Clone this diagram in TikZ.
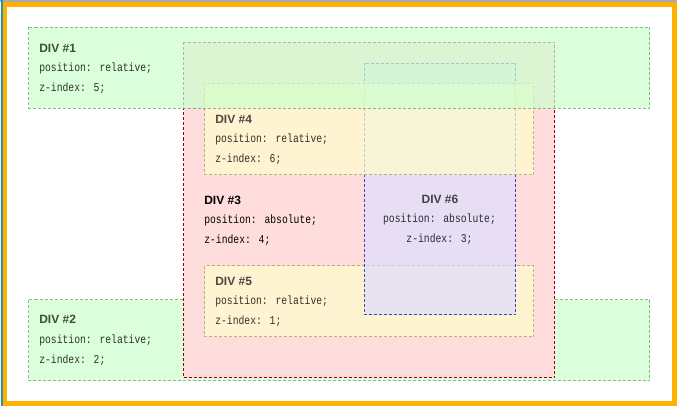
\documentclass[tikz,border=0pt]{standalone}
\usepackage{fontspec}
\setmainfont{Liberation Sans}
\newfontfamily\monof[FakeStretch=0.81]{Liberation Mono}
\definecolor{frameor}{RGB}{255,176,0}
\definecolor{tealln}{RGB}{40,150,170}
\definecolor{topgray}{RGB}{170,170,170}
\definecolor{grfill}{HTML}{CCFFCC}
\definecolor{grline}{HTML}{669966}
\definecolor{pkfill}{HTML}{FFDDDD}
\definecolor{pkline}{HTML}{990000}
\definecolor{ylfill}{HTML}{FFFFCC}
\definecolor{ylline}{HTML}{999966}
\definecolor{blfill}{HTML}{DDDDFF}
\definecolor{blline}{HTML}{000099}
\tikzset{
  divbox/.style={opacity=0.7, line width=0.75pt, dash pattern=on 2.25pt off 1.5pt},
  box12/.style={divbox, fill=grfill, draw=grline},
  box3/.style={line width=0.75pt, dash pattern=on 2.25pt off 1.5pt, fill=pkfill, draw=pkline},
  box45/.style={divbox, fill=ylfill, draw=ylline},
  box6/.style={divbox, fill=blfill, draw=blline},
  ttl/.style={font=\fontsize{9}{10}\selectfont\bfseries, inner sep=0pt, anchor=west, text opacity=0.7},
  mono/.style={font=\monof\fontsize{9}{10}\selectfont, inner sep=0pt, anchor=west, text opacity=0.8},
}
\begin{document}
\begin{tikzpicture}[x=0.75pt,y=-0.75pt]
\useasboundingbox (0,0) rectangle (677,406);
% frame
\fill[topgray] (0,0) rectangle (677,2);
\fill[tealln] (1,0) rectangle (2.6,406);
\fill[frameor] (2.6,2) rectangle (677,406);
\fill[white] (7,7) rectangle (672,401);
% DIV 2
\draw[box12] (28.5,299.5) rectangle (649.5,380.5);
\node[ttl] (t2) at (39,319.5) {DIV \#2};
\node[mono] (p2) at (39,340.5) {position: relative;};
\node[mono] (z2) at (39,360.5) {z-index: 2;};
% DIV 3
\draw[box3] (183.5,42.5) rectangle (554.5,377.5);
\node[ttl, text opacity=1] (t3) at (204,200) {DIV \#3};
\node[mono, text opacity=1] (p3) at (204,220.5) {position: absolute;};
\node[mono, text opacity=1] (z3) at (204,240.5) {z-index: 4;};
% DIV 5
\draw[box45] (204.5,265.5) rectangle (533.5,336.5);
\node[ttl] (t5) at (215,281) {DIV \#5};
\node[mono] (p5) at (215,301) {position: relative;};
\node[mono] (z5) at (215,321) {z-index: 1;};
% DIV 6
\draw[box6] (364.5,63.5) rectangle (515.5,314.5);
\node[ttl, anchor=center] (t6) at (440,199.5) {DIV \#6};
\node[mono, anchor=center] (p6) at (439.5,219.5) {position: absolute;};
\node[mono, anchor=center] (z6) at (439.5,239.5) {z-index: 3;};
% DIV 4
\draw[box45] (204.5,83.5) rectangle (533.5,174.5);
\node[ttl] (t4) at (215,119) {DIV \#4};
\node[mono] (p4) at (215,139.5) {position: relative;};
\node[mono] (z4) at (215,159.5) {z-index: 6;};
% DIV 1
\draw[box12] (28.5,27.5) rectangle (649.5,108.5);
\node[ttl] (t1) at (39,48) {DIV \#1};
\node[mono] (p1) at (39,68.5) {position: relative;};
\node[mono] (z1) at (39,88.5) {z-index: 5;};
\end{tikzpicture}
\end{document}
